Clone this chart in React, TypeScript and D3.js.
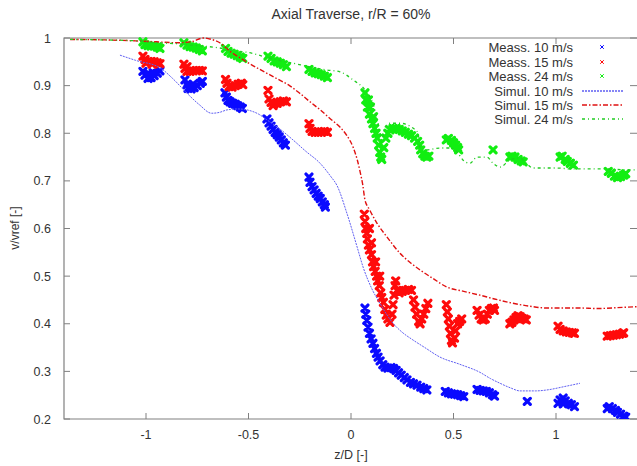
import React from "react";
import * as d3 from "d3";

const W = 637;
const H = 466;

const titleText = "Axial Traverse, r/R = 60%";
const xLabel = "z/D [-]";
const yLabel = "v/vref [-]";
const xTicks = [-1, -0.5, 0, 0.5, 1];
const yTicks = [0.2, 0.3, 0.4, 0.5, 0.6, 0.7, 0.8, 0.9, 1];
const seriesNames = ["Meass. 10 m/s", "Meass. 15 m/s", "Meass. 24 m/s", "Simul. 10 m/s", "Simul. 15 m/s", "Simul. 24 m/s"];

type P = [number, number];

// Measured 10 m/s
const meas10: P[] = [
  [-1.015, 0.93], [-1.005, 0.922], [-0.99, 0.915], [-0.975, 0.917], [-0.96, 0.921], [-0.945, 0.926], [-0.932, 0.931], [-0.985, 0.924], [-0.965, 0.927],
  [-0.81, 0.912], [-0.8, 0.902], [-0.795, 0.894], [-0.78, 0.893], [-0.765, 0.896], [-0.75, 0.9], [-0.735, 0.905], [-0.725, 0.909], [-0.77, 0.903],
  [-0.615, 0.885], [-0.608, 0.876], [-0.6, 0.869], [-0.59, 0.866], [-0.578, 0.863], [-0.565, 0.861], [-0.553, 0.858], [-0.54, 0.855], [-0.53, 0.852],
  [-0.41, 0.83], [-0.4, 0.822], [-0.39, 0.815], [-0.38, 0.808], [-0.37, 0.802], [-0.36, 0.797], [-0.35, 0.792], [-0.34, 0.786], [-0.33, 0.78], [-0.32, 0.775],
  [-0.205, 0.708], [-0.2, 0.697], [-0.19, 0.688], [-0.18, 0.681], [-0.17, 0.674], [-0.16, 0.668], [-0.15, 0.663], [-0.14, 0.656], [-0.13, 0.65], [-0.125, 0.645],
  [0.068, 0.433], [0.072, 0.42], [0.077, 0.407], [0.083, 0.393], [0.09, 0.38], [0.098, 0.368], [0.107, 0.359], [0.115, 0.348], [0.124, 0.338], [0.132, 0.33],
  [0.142, 0.322], [0.155, 0.314], [0.166, 0.309], [0.18, 0.307], [0.195, 0.308], [0.208, 0.306], [0.22, 0.302], [0.232, 0.297], [0.245, 0.292], [0.26, 0.287],
  [0.273, 0.282], [0.29, 0.277], [0.305, 0.274], [0.322, 0.271], [0.34, 0.267], [0.355, 0.264], [0.37, 0.261],
  [0.46, 0.258], [0.475, 0.255], [0.49, 0.253], [0.505, 0.252], [0.52, 0.251], [0.535, 0.249], [0.55, 0.247],
  [0.615, 0.262], [0.63, 0.26], [0.645, 0.259], [0.66, 0.258], [0.675, 0.255], [0.69, 0.251], [0.7, 0.248],
  [0.86, 0.237],
  [1.01, 0.233], [1.02, 0.24], [1.035, 0.244], [1.045, 0.238], [1.06, 0.233], [1.075, 0.23], [1.09, 0.226], [1.035, 0.232],
  [1.25, 0.222], [1.26, 0.226], [1.275, 0.222], [1.29, 0.218], [1.3, 0.214], [1.315, 0.21], [1.33, 0.206], [1.34, 0.204],
];

// Measured 15 m/s
const meas15: P[] = [
  [-1.015, 0.962], [-1.005, 0.955], [-0.99, 0.951], [-0.975, 0.951], [-0.96, 0.95], [-0.945, 0.948], [-0.932, 0.946], [-1.0, 0.947], [-0.97, 0.945],
  [-0.815, 0.945], [-0.81, 0.936], [-0.8, 0.93], [-0.785, 0.93], [-0.77, 0.931], [-0.755, 0.932], [-0.74, 0.932], [-0.725, 0.931], [-0.8, 0.94],
  [-0.612, 0.913], [-0.605, 0.905], [-0.595, 0.898], [-0.58, 0.897], [-0.565, 0.9], [-0.55, 0.903], [-0.535, 0.905], [-0.528, 0.902],
  [-0.405, 0.89], [-0.4, 0.872], [-0.39, 0.865], [-0.375, 0.862], [-0.36, 0.863], [-0.345, 0.866], [-0.33, 0.868], [-0.315, 0.866], [-0.38, 0.858],
  [-0.205, 0.82], [-0.2, 0.81], [-0.19, 0.804], [-0.175, 0.802], [-0.16, 0.802], [-0.145, 0.803], [-0.13, 0.804], [-0.115, 0.802],
  [0.065, 0.63], [0.068, 0.615], [0.072, 0.6], [0.077, 0.59], [0.08, 0.578], [0.085, 0.565], [0.09, 0.555], [0.1, 0.545], [0.105, 0.53], [0.11, 0.52],
  [0.118, 0.51], [0.125, 0.5], [0.13, 0.49], [0.138, 0.48], [0.145, 0.465], [0.15, 0.455], [0.158, 0.445], [0.165, 0.43], [0.172, 0.418], [0.18, 0.41],
  [0.19, 0.403], [0.2, 0.42], [0.205, 0.44], [0.21, 0.46], [0.215, 0.48], [0.218, 0.49], [0.225, 0.47], [0.235, 0.465], [0.25, 0.468], [0.265, 0.47],
  [0.28, 0.472], [0.295, 0.47], [0.305, 0.45], [0.312, 0.435], [0.32, 0.42], [0.33, 0.405], [0.337, 0.4], [0.345, 0.41], [0.355, 0.42], [0.365, 0.432], [0.375, 0.443],
  [0.09, 0.6], [0.1, 0.57], [0.12, 0.53], [0.14, 0.5],
  [0.465, 0.44], [0.47, 0.425], [0.475, 0.41], [0.48, 0.395], [0.485, 0.38], [0.49, 0.365], [0.495, 0.36], [0.505, 0.37], [0.51, 0.385], [0.52, 0.4], [0.53, 0.405], [0.54, 0.41],
  [0.615, 0.428], [0.625, 0.418], [0.635, 0.41], [0.645, 0.408], [0.655, 0.41], [0.665, 0.42], [0.675, 0.428], [0.685, 0.432], [0.695, 0.433], [0.7, 0.428],
  [0.775, 0.4], [0.785, 0.403], [0.795, 0.408], [0.805, 0.413], [0.815, 0.417], [0.825, 0.415], [0.835, 0.411], [0.845, 0.41], [0.855, 0.408],
  [1.01, 0.395], [1.02, 0.388], [1.035, 0.385], [1.05, 0.383], [1.065, 0.382], [1.08, 0.381], [1.09, 0.38],
  [1.25, 0.374], [1.265, 0.375], [1.28, 0.376], [1.295, 0.377], [1.31, 0.378], [1.325, 0.38], [1.33, 0.381],
];

// Measured 24 m/s
const meas24: P[] = [
  [-1.015, 0.992], [-1.005, 0.986], [-0.99, 0.984], [-0.975, 0.983], [-0.96, 0.983], [-0.945, 0.981], [-0.932, 0.978],
  [-0.815, 0.99], [-0.8, 0.985], [-0.785, 0.982], [-0.77, 0.981], [-0.755, 0.979], [-0.74, 0.976], [-0.725, 0.973],
  [-0.612, 0.978], [-0.6, 0.972], [-0.585, 0.968], [-0.57, 0.966], [-0.555, 0.963], [-0.54, 0.96], [-0.528, 0.957],
  [-0.405, 0.962], [-0.39, 0.957], [-0.375, 0.952], [-0.36, 0.95], [-0.345, 0.947], [-0.33, 0.944], [-0.315, 0.94],
  [-0.205, 0.934], [-0.19, 0.93], [-0.175, 0.927], [-0.16, 0.925], [-0.145, 0.923], [-0.13, 0.92], [-0.115, 0.917],
  [0.068, 0.885], [0.072, 0.87], [0.08, 0.855], [0.09, 0.84], [0.1, 0.83], [0.107, 0.82], [0.115, 0.81], [0.122, 0.8], [0.128, 0.79], [0.135, 0.775],
  [0.14, 0.76], [0.145, 0.75], [0.15, 0.745], [0.16, 0.77], [0.17, 0.79], [0.18, 0.8], [0.19, 0.807], [0.205, 0.81], [0.22, 0.81], [0.235, 0.808],
  [0.25, 0.805], [0.265, 0.802], [0.28, 0.798], [0.295, 0.795], [0.31, 0.79], [0.325, 0.783], [0.335, 0.775], [0.34, 0.765], [0.35, 0.757], [0.36, 0.752],
  [0.37, 0.75], [0.38, 0.752], [0.085, 0.87], [0.095, 0.855], [0.11, 0.835],
  [0.465, 0.786], [0.475, 0.789], [0.49, 0.785], [0.5, 0.78], [0.51, 0.775], [0.52, 0.77], [0.525, 0.765],
  [0.693, 0.765],
  [0.775, 0.75], [0.785, 0.752], [0.8, 0.75], [0.815, 0.745], [0.83, 0.742], [0.84, 0.74],
  [1.02, 0.75], [1.03, 0.752], [1.045, 0.745], [1.055, 0.741], [1.07, 0.737], [1.085, 0.733],
  [1.255, 0.72], [1.27, 0.716], [1.285, 0.71], [1.3, 0.707], [1.315, 0.709], [1.33, 0.712], [1.34, 0.715],
];

const sim10: P[] = [
  [-1.127, 0.964], [-1.05, 0.953], [-0.93, 0.937], [-0.87, 0.915], [-0.8, 0.884], [-0.74, 0.86], [-0.68, 0.842], [-0.64, 0.844],
  [-0.605, 0.849], [-0.55, 0.851], [-0.507, 0.849], [-0.45, 0.84], [-0.41, 0.828], [-0.35, 0.81], [-0.283, 0.786], [-0.22, 0.762],
  [-0.151, 0.737], [-0.1, 0.71], [-0.068, 0.69], [-0.02, 0.632], [0.03, 0.561], [0.059, 0.519], [0.1, 0.475], [0.141, 0.443],
  [0.205, 0.401], [0.25, 0.382], [0.302, 0.366], [0.36, 0.35], [0.434, 0.33], [0.53, 0.315], [0.629, 0.298], [0.68, 0.285],
  [0.727, 0.275], [0.78, 0.265], [0.824, 0.259], [0.9, 0.259], [0.956, 0.261], [1.04, 0.268], [1.117, 0.275],
];

const sim15: P[] = [
  [-1.37, 0.997], [-1.2, 0.996], [-1.05, 0.994], [-0.95, 0.992], [-0.85, 0.99], [-0.78, 0.992], [-0.72, 1.0], [-0.68, 0.997],
  [-0.64, 0.99], [-0.59, 0.972], [-0.54, 0.958], [-0.49, 0.945], [-0.44, 0.933], [-0.35, 0.912], [-0.3, 0.9], [-0.25, 0.884],
  [-0.2, 0.866], [-0.15, 0.849], [-0.1, 0.83], [-0.054, 0.813], [-0.02, 0.795], [0.01, 0.771], [0.03, 0.745], [0.044, 0.72],
  [0.058, 0.69], [0.068, 0.66], [0.09, 0.64], [0.127, 0.611], [0.176, 0.582], [0.239, 0.548], [0.29, 0.528], [0.337, 0.513],
  [0.4, 0.495], [0.468, 0.477], [0.55, 0.468], [0.629, 0.46], [0.7, 0.452], [0.79, 0.443], [0.87, 0.437], [0.956, 0.433],
  [1.117, 0.433], [1.2, 0.432], [1.351, 0.435], [1.4, 0.436],
];

const sim24: P[] = [
  [-1.37, 0.997], [-1.2, 0.996], [-1.05, 0.994], [-0.95, 0.99], [-0.85, 0.988], [-0.78, 0.985], [-0.72, 0.983], [-0.64, 0.979],
  [-0.55, 0.972], [-0.507, 0.97], [-0.4, 0.958], [-0.283, 0.947], [-0.12, 0.933], [-0.054, 0.929], [0.01, 0.912], [0.068, 0.891],
  [0.107, 0.863], [0.132, 0.821], [0.151, 0.786], [0.166, 0.813], [0.19, 0.821], [0.239, 0.821], [0.302, 0.811], [0.327, 0.8],
  [0.337, 0.769], [0.37, 0.765], [0.434, 0.769], [0.483, 0.769], [0.517, 0.761], [0.546, 0.744], [0.58, 0.737], [0.615, 0.75],
  [0.663, 0.75], [0.693, 0.737], [0.727, 0.729], [0.776, 0.744], [0.824, 0.748], [0.855, 0.737], [0.888, 0.727], [1.0, 0.727],
  [1.08, 0.725], [1.25, 0.725], [1.346, 0.723], [1.4, 0.723],
];

const FONT = "'Liberation Sans', Arial, Helvetica, sans-serif";

export default function App() {
  const left = 64, right = 638, top = 38, bottom = 419;
  const x = d3.scaleLinear().domain([-1.4, 1.4]).range([left, right]);
  const y = d3.scaleLinear().domain([0.2, 1]).range([bottom, top]);
  const line = d3.line<P>().x((d) => x(d[0])).y((d) => y(d[1])).curve(d3.curveMonotoneX);

  const measSets = [
    { data: meas10, color: "#0a0aff" },
    { data: meas15, color: "#ff0a0a" },
    { data: meas24, color: "#11ee11" },
  ];
  const simSets = [
    { data: sim10, color: "#5f5ff2", dash: "2,1", w: 1 },
    { data: sim15, color: "#e01010", dash: "5,2,1.5,2", w: 1.4 },
    { data: sim24, color: "#22cc22", dash: "3,3,1,3", w: 1.3 },
  ];

  const cross = (cx: number, cy: number, s: number) =>
    `M${cx - s},${cy - s}L${cx + s},${cy + s}M${cx - s},${cy + s}L${cx + s},${cy - s}`;

  const legendRows = [47, 62, 76, 91, 105, 119];
  const axisColor = "#808080";

  return (
    <svg width={W} height={H} style={{ position: "absolute", left: 0, top: 0, background: "#fff" }} fontFamily={FONT}>
      <rect x={0} y={0} width={W} height={H} fill="#fff" />
      <defs>
        <clipPath id="plotclip">
          <rect x={left} y={top - 4} width={right - left} height={bottom - top + 4} />
        </clipPath>
      </defs>
      {/* frame */}
      <path d={`M${right},${top}H${left}V${bottom}H${right}`} fill="none" stroke={axisColor} strokeWidth={1.2} />
      {xTicks.map((t) => (
        <g key={"xt" + t}>
          <line x1={x(t)} x2={x(t)} y1={bottom} y2={bottom - 6} stroke={axisColor} />
          <line x1={x(t)} x2={x(t)} y1={top} y2={top + 6} stroke={axisColor} />
          <text x={x(t)} y={439} textAnchor="middle" fontSize={12.5} fill="#333">{String(t)}</text>
        </g>
      ))}
      {yTicks.map((t) => (
        <g key={"yt" + t}>
          <line x1={left} x2={left + 6} y1={y(t)} y2={y(t)} stroke={axisColor} />
          <line x1={right - 8} x2={right} y1={y(t)} y2={y(t)} stroke={axisColor} />
          <text x={51} y={y(t) + 4.5} textAnchor="end" fontSize={12.5} fill="#333">{String(t)}</text>
        </g>
      ))}
      <text x={351} y={19} textAnchor="middle" fontSize={14} fill="#333">{titleText}</text>
      <text x={351} y={459} textAnchor="middle" fontSize={12.5} fill="#333">{xLabel}</text>
      <text transform={`translate(19,${228}) rotate(-90)`} textAnchor="middle" fontSize={12} fill="#333">{yLabel}</text>

      <g clipPath="url(#plotclip)">
        {measSets.map((s, i) => (
          <path key={"m" + i} d={s.data.map((p) => cross(x(p[0]), y(p[1]), 3)).join("")} stroke={s.color} strokeWidth={3.2} strokeLinecap="round" fill="none" />
        ))}
        {simSets.map((s, i) => (
          <path key={"s" + i} d={line(s.data) || ""} stroke={s.color} strokeWidth={s.w} strokeDasharray={s.dash} fill="none" />
        ))}
      </g>

      {/* legend */}
      {seriesNames.map((n, i) => (
        <text key={"lt" + i} x={573} y={legendRows[i] + 4.5} textAnchor="end" fontSize={13} fill="#333">{n}</text>
      ))}
      {measSets.map((s, i) => (
        <path key={"lm" + i} d={cross(602, legendRows[i], 1.8)} stroke={s.color} strokeWidth={1} fill="none" />
      ))}
      {simSets.map((s, i) => (
        <line key={"ls" + i} x1={582} x2={623} y1={legendRows[i + 3]} y2={legendRows[i + 3]} stroke={s.color} strokeWidth={s.w + 0.3} strokeDasharray={s.dash} />
      ))}
    </svg>
  );
}
